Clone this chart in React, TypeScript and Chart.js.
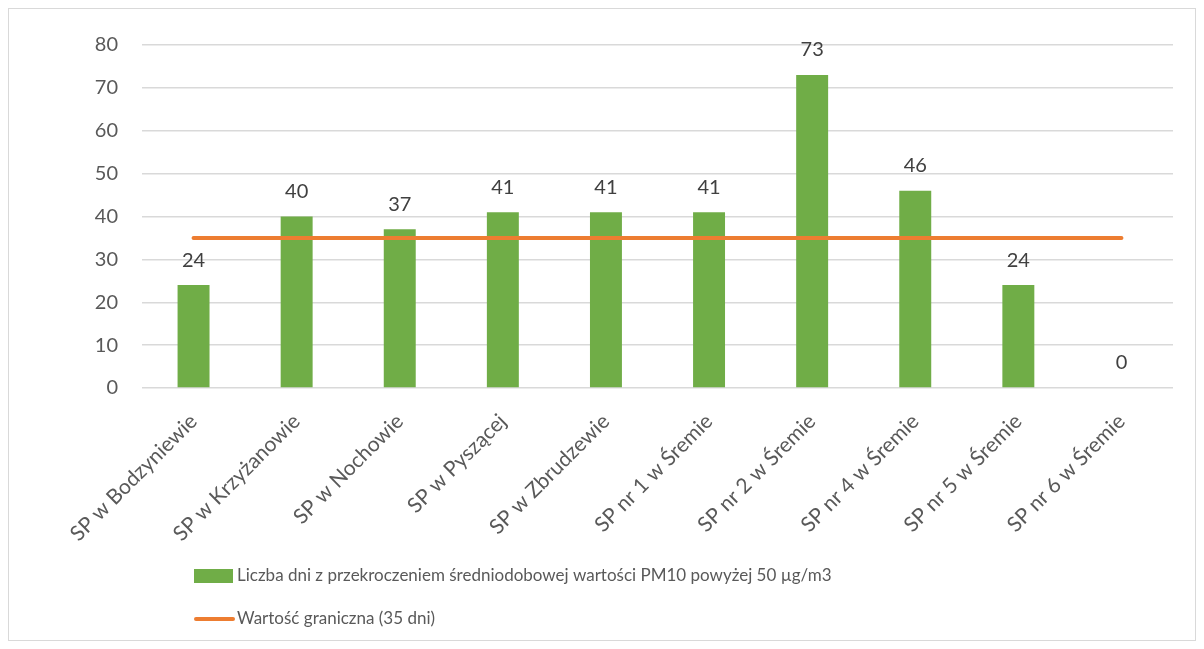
import React, { useEffect, useRef } from "react";
import { Chart, registerables } from "chart.js";

Chart.register(...registerables);

const categories = [
  "SP w Bodzyniewie",
  "SP w Krzyżanowie",
  "SP w Nochowie",
  "SP w Pyszącej",
  "SP w Zbrudzewie",
  "SP nr 1 w Śremie",
  "SP nr 2 w Śremie",
  "SP nr 4 w Śremie",
  "SP nr 5 w Śremie",
  "SP nr 6 w Śremie",
];
const daysExceeded = [24, 40, 37, 41, 41, 41, 73, 46, 24, 0];
const limitDays = [35, 35, 35, 35, 35, 35, 35, 35, 35, 35];
const yTicks = [0, 10, 20, 30, 40, 50, 60, 70, 80];

const barLabel = "Liczba dni z przekroczeniem średniodobowej wartości PM10 powyżej 50 µg/m3";
const lineLabel = "Wartość graniczna (35 dni)";

const GREEN = "#70AD47";
const ORANGE = "#ED7D31";
const TEXT = "#595959";
const FONT = "Lato, 'Open Sans', sans-serif";

const valueLabels = {
  id: "valueLabels",
  afterDatasetsDraw(chart: any) {
    const ctx = chart.ctx;
    const meta = chart.getDatasetMeta(0);
    ctx.save();
    ctx.font = `20px ${FONT}`;
    ctx.fillStyle = "#404040";
    ctx.textAlign = "center";
    ctx.textBaseline = "middle";
    meta.data.forEach((el: any, i: number) => {
      const v = chart.data.datasets[0].data[i];
      ctx.fillText(String(v), el.x, el.y - 25);
    });
    ctx.restore();
  },
};

const customLegend = {
  id: "customLegend",
  afterDraw(chart: any) {
    const ctx = chart.ctx;
    ctx.save();
    ctx.font = `17px ${FONT}`;
    ctx.textBaseline = "middle";
    ctx.textAlign = "left";
    const x0 = 185;
    const y1 = 567;
    const y2 = 610;
    ctx.fillStyle = GREEN;
    ctx.fillRect(x0, y1 - 7, 39, 14);
    ctx.fillStyle = TEXT;
    ctx.fillText(chart.data.datasets[0].label, x0 + 43, y1);
    ctx.strokeStyle = ORANGE;
    ctx.lineWidth = 4;
    ctx.lineCap = "round";
    ctx.beginPath();
    ctx.moveTo(x0 + 2, y2);
    ctx.lineTo(x0 + 39, y2);
    ctx.stroke();
    ctx.fillText(chart.data.datasets[1].label, x0 + 43, y2);
    ctx.restore();
  },
};

export default function App() {
  const ref = useRef<HTMLCanvasElement | null>(null);
  useEffect(() => {
    if (!ref.current) return;
    const chart = new Chart(ref.current, {
      type: "bar",
      data: {
        labels: categories,
        datasets: [
          {
            type: "bar",
            label: barLabel,
            data: daysExceeded,
            backgroundColor: GREEN,
            barPercentage: 0.31,
            categoryPercentage: 1,
            order: 2,
          },
          {
            type: "line",
            label: lineLabel,
            data: limitDays,
            borderColor: ORANGE,
            backgroundColor: ORANGE,
            borderWidth: 4,
            borderCapStyle: "round",
            pointRadius: 0,
            order: 1,
          },
        ],
      } as any,
      options: {
        animation: false,
        responsive: true,
        maintainAspectRatio: false,
        layout: { padding: { top: 27, right: 22, left: 0, bottom: 0 } },
        plugins: {
          legend: { display: false },
          tooltip: { enabled: false },
        },
        scales: {
          x: {
            grid: { display: false, drawTicks: false },
            border: { display: false },
            ticks: {
              color: TEXT,
              font: { family: FONT, size: 21 },
              minRotation: 45,
              maxRotation: 45,
              padding: 21,
            },
            afterFit: (s: any) => {
              s.height = 252;
            },
          },
          y: {
            min: 0,
            max: 80,
            afterBuildTicks: (s: any) => {
              s.ticks = yTicks.map((v) => ({ value: v }));
            },
            grid: { color: "#D9D9D9", lineWidth: 1.5, drawTicks: false },
            border: { display: false },
            ticks: {
              color: TEXT,
              font: { family: FONT, size: 20 },
              padding: 24,
            },
            afterFit: (s: any) => {
              s.width = 133;
            },
          },
        },
      },
      plugins: [valueLabels, customLegend],
    });
    return () => chart.destroy();
  }, []);
  return (
    <div
      style={{
        width: 1188,
        height: 633,
        border: "1px solid #D9D9D9",
        boxSizing: "border-box",
        position: "relative",
        background: "#fff",
      }}
    >
      <canvas ref={ref} />
    </div>
  );
}
